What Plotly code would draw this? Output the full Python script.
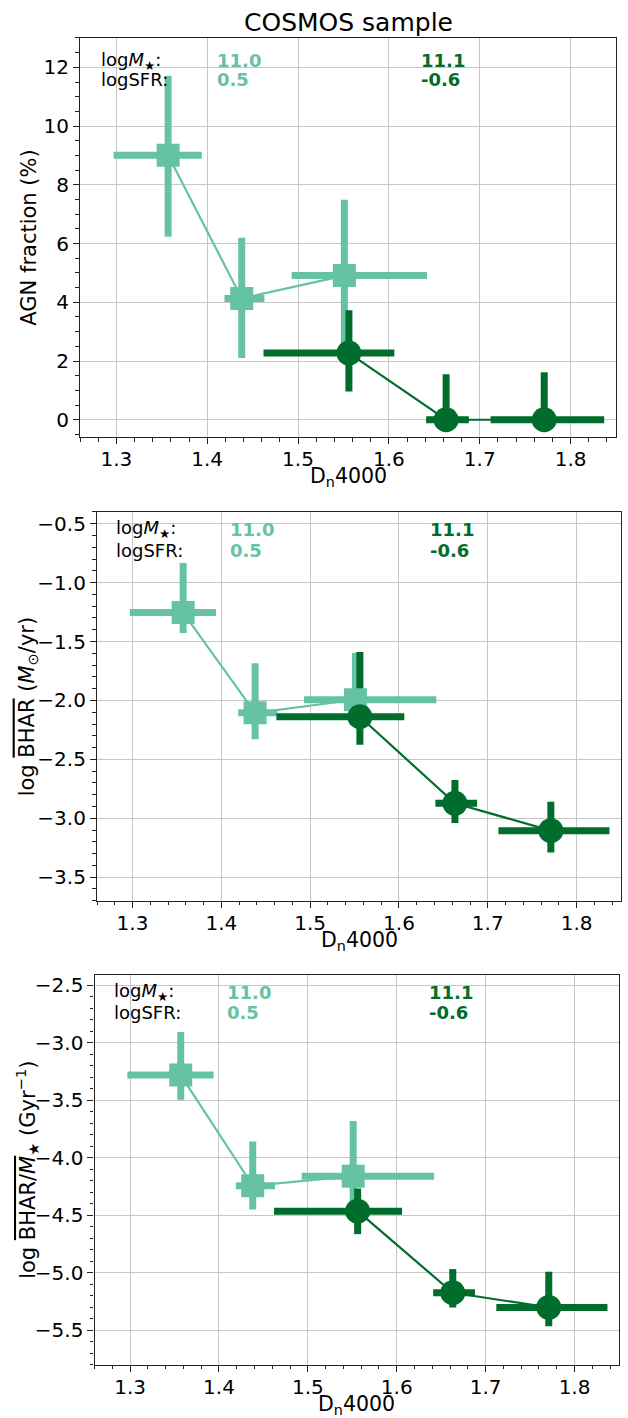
import plotly.graph_objects as go

W, H = 628, 1418
LIGHT = '#66c2a5'
DARK = '#006d2c'
FONT = 'DejaVu Sans'

# ---------------- data ----------------
dn_light = [1.357, 1.438, 1.551]
dn_light_lo = [0.060, 0.019, 0.058]
dn_light_hi = [0.037, 0.025, 0.091]
dn_dark = [1.556, 1.663, 1.771]
dn_dark_lo = [0.094, 0.022, 0.059]
dn_dark_hi = [0.050, 0.025, 0.066]

agn_light = [9.01, 4.13, 4.91]
agn_light_hi = [2.70, 2.07, 2.58]
agn_light_lo = [2.78, 2.03, 2.50]
agn_dark = [2.27, 0.0, 0.0]
agn_dark_hi = [1.46, 1.55, 1.62]
agn_dark_lo = [1.31, 0.0, 0.0]

bhar_light = [-1.254, -2.105, -1.994]
bhar_light_hi = [0.42, 0.42, 0.40]
bhar_light_lo = [0.173, 0.225, 0.22]
bhar_dark = [-2.138, -2.873, -3.105]
bhar_dark_hi = [0.55, 0.198, 0.245]
bhar_dark_lo = [0.238, 0.167, 0.185]

sbhar_light = [-3.281, -4.243, -4.160]
sbhar_light_hi = [0.374, 0.385, 0.48]
sbhar_light_lo = [0.214, 0.206, 0.22]
sbhar_dark = [-4.464, -5.174, -5.301]
sbhar_dark_hi = [0.197, 0.206, 0.31]
sbhar_dark_lo = [0.200, 0.127, 0.163]

light_mass, light_sfr = '11.0', '0.5'
dark_mass, dark_sfr = '11.1', '-0.6'

x_ticks = [1.3, 1.4, 1.5, 1.6, 1.7, 1.8]

# ---------------- layout geometry (pixels) ----------------
panels = [
    dict(l=80, r=616, t=36, b=436, yr=[-0.6, 13.0], dt=2, mn=0.5, fmt='d',
         ylight=agn_light, ylhi=agn_light_hi, yllo=agn_light_lo,
         ydark=agn_dark, ydhi=agn_dark_hi, ydlo=agn_dark_lo,
         txt=dict(x0=100, x1=216, x2=420, y0=59, y1=77.5),
         ytitle='AGN fraction (%)', ytx=29),
    dict(l=97, r=621, t=510.7, b=900, yr=[-3.70, -0.40], dt=0.5, mn=0.1, fmt='.1f',
         ylight=bhar_light, ylhi=bhar_light_hi, yllo=bhar_light_lo,
         ydark=bhar_dark, ydhi=bhar_dark_hi, ydlo=bhar_dark_lo,
         txt=dict(x0=115.3, x1=229.3, x2=429.4, y0=527.8, y1=549.3),
         ytitle='log <span style="text-decoration:overline">BHAR</span> (<i>M</i><sub>⊙</sub>/yr)', ytx=28),
    dict(l=94.5, r=619, t=974.3, b=1364.7, yr=[-5.80, -2.41], dt=0.5, mn=0.1, fmt='.1f',
         ylight=sbhar_light, ylhi=sbhar_light_hi, yllo=sbhar_light_lo,
         ydark=sbhar_dark, ydhi=sbhar_dark_hi, ydlo=sbhar_dark_lo,
         txt=dict(x0=112.7, x1=226, x2=427.7, y0=991.7, y1=1012),
         ytitle='log <span style="text-decoration:overline">BHAR/<i>M</i></span><sub>★</sub> (Gyr<sup>−1</sup>)', ytx=27),
]

fig = go.Figure()
annotations = []


def px2x(px):
    return px / W


def py2y(py):
    return 1 - py / H


for i, p in enumerate(panels):
    n = '' if i == 0 else str(i + 1)
    xa, ya = 'x' + n, 'y' + n
    # error bars first (below all markers, like matplotlib zorder)
    for xs, xlo, xhi, ys, ylo, yhi, col in [
        (dn_light, dn_light_lo, dn_light_hi, p['ylight'], p['yllo'], p['ylhi'], LIGHT),
        (dn_dark, dn_dark_lo, dn_dark_hi, p['ydark'], p['ydlo'], p['ydhi'], DARK),
    ]:
        fig.add_trace(go.Scatter(
            x=xs, y=ys, xaxis=xa, yaxis=ya, mode='markers',
            marker=dict(size=1, opacity=0),
            error_x=dict(type='data', symmetric=False, array=xhi, arrayminus=xlo,
                         thickness=7, width=0, color=col),
            error_y=dict(type='data', symmetric=False, array=yhi, arrayminus=ylo,
                         thickness=7, width=0, color=col),
            hoverinfo='skip', showlegend=False))
    fig.add_trace(go.Scatter(
        x=dn_light, y=p['ylight'], xaxis=xa, yaxis=ya, mode='lines+markers',
        line=dict(color=LIGHT, width=2.2),
        marker=dict(symbol='square', size=23, color=LIGHT, line=dict(width=0)),
        showlegend=False))
    fig.add_trace(go.Scatter(
        x=dn_dark, y=p['ydark'], xaxis=xa, yaxis=ya, mode='lines+markers',
        line=dict(color=DARK, width=2.2),
        marker=dict(symbol='circle', size=25, color=DARK, line=dict(width=0)),
        showlegend=False))

    axcommon = dict(showline=True, linecolor='#222', linewidth=1.2, mirror=True,
                    showgrid=True, gridcolor='#c6c6c6', gridwidth=1.2, zeroline=False,
                    ticks='outside', ticklen=6, tickwidth=1.2, tickcolor='#222',
                    tickfont=dict(family=FONT, size=20, color='black'))
    fig.layout['xaxis' + n] = dict(
        domain=[px2x(p['l']), px2x(p['r'])], anchor=ya, range=[1.26, 1.85],
        tickvals=x_ticks, ticktext=[f'{v:.1f}' for v in x_ticks],
        ticklabelstandoff=-2,
        minor=dict(dtick=0.02, tick0=0, ticks='outside', ticklen=3.5, tickwidth=1,
                   tickcolor='#222', showgrid=False),
        **axcommon)
    fig.layout['yaxis' + n] = dict(
        domain=[py2y(p['b']), py2y(p['t'])], anchor=xa, range=p['yr'],
        dtick=p['dt'], tick0=0, tickformat=p['fmt'],
        minor=dict(dtick=p['mn'], tick0=0, ticks='outside', ticklen=3.5, tickwidth=1,
                   tickcolor='#222', showgrid=False),
        **axcommon)

    # x title
    annotations.append(dict(
        text='D<sub>n</sub>4000', xref='paper', yref='paper',
        x=px2x((p['l'] + p['r']) / 2), y=py2y(p['b'] + 40), xanchor='center', yanchor='middle',
        showarrow=False, font=dict(family=FONT, size=20.5, color='black')))
    # y title
    annotations.append(dict(
        text=p['ytitle'], xref='paper', yref='paper', textangle=-90,
        x=px2x(p['ytx']), y=py2y((p['t'] + p['b']) / 2), xanchor='center', yanchor='middle',
        showarrow=False, font=dict(family=FONT, size=21, color='black')))
    # info texts
    t = p['txt']
    for txt, xx, yy, col, bold in [
        ('log<i>M</i><sub>★</sub>:', t['x0'], t['y0'], 'black', False),
        ('logSFR:', t['x0'], t['y1'], 'black', False),
        (light_mass, t['x1'], t['y0'], LIGHT, True),
        (light_sfr, t['x1'], t['y1'], LIGHT, True),
        (dark_mass, t['x2'], t['y0'], DARK, True),
        (dark_sfr, t['x2'], t['y1'], DARK, True),
    ]:
        annotations.append(dict(
            text=f'<b>{txt}</b>' if bold else txt, xref='paper', yref='paper',
            x=px2x(xx), y=py2y(yy), xanchor='left', yanchor='middle', showarrow=False,
            borderpad=0, font=dict(family=FONT, size=18, color=col)))

annotations.append(dict(
    text='COSMOS sample', xref='paper', yref='paper', x=px2x(348), y=py2y(20.5),
    xanchor='center', yanchor='middle', showarrow=False,
    font=dict(family=FONT, size=25, color='black')))

fig.update_layout(
    width=W, height=H, margin=dict(l=0, r=0, t=0, b=0),
    paper_bgcolor='white', plot_bgcolor='white', showlegend=False,
    annotations=annotations, font=dict(family=FONT, color='black'))

fig.write_html('out.html')
